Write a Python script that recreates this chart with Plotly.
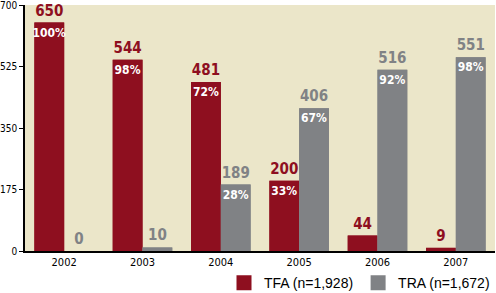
import plotly.graph_objects as go

years = ["2002", "2003", "2004", "2005", "2006", "2007"]
tfa_values = [650, 544, 481, 200, 44, 9]
tra_values = [0, 10, 189, 406, 516, 551]
tfa_pct = ["100%", "98%", "72%", "33%", "", ""]
tra_pct = ["", "", "28%", "67%", "92%", "98%"]
series_names = ["TFA (n=1,928)", "TRA (n=1,672)"]
y_ticks = [0, 175, 350, 525, 700]

RED = "#8e0f1f"
GRAY = "#808285"
BG = "#ebe6c9"
NARROW = "Liberation Sans Narrow, DejaVu Sans Condensed, Arial Narrow, sans-serif"

fig = go.Figure()

for vals, pcts, color, grp in [(tfa_values, tfa_pct, RED, "a"), (tra_values, tra_pct, GRAY, "b")]:
    # bar with value label on top
    fig.add_trace(go.Bar(
        x=years, y=vals, offsetgroup=grp, marker=dict(color=color, line=dict(width=0)),
        text=[str(v) for v in vals], textposition="outside", constraintext="none",
        cliponaxis=False, textangle=0,
        outsidetextfont=dict(family=NARROW, size=15, color=color, weight="bold"),
        showlegend=False, hoverinfo="skip"))
    # same bar with percentage inside at the top
    fig.add_trace(go.Bar(
        x=years, y=vals, offsetgroup=grp, marker=dict(color=color, line=dict(width=0)),
        text=pcts, textposition="inside", insidetextanchor="end", constraintext="none",
        textangle=0,
        insidetextfont=dict(family=NARROW, size=12, color="white", weight="bold"),
        showlegend=False, hoverinfo="skip"))

for name, color in zip(series_names, [RED, GRAY]):
    fig.add_trace(go.Scatter(
        x=[None], y=[None], mode="markers", name=name,
        marker=dict(symbol="square", size=15, color=color)))

fig.update_layout(
    width=496, height=293,
    margin=dict(l=25, r=1, t=5, b=42),
    paper_bgcolor="white", plot_bgcolor=BG,
    barmode="group", bargap=0.24, bargroupgap=0,
    showlegend=True,
    legend=dict(orientation="h", xanchor="right", x=1.0, xref="paper",
                yanchor="top", yref="container", y=0.088,
                font=dict(family="Liberation Sans, Arial, sans-serif", size=14, color="black"),
                bgcolor="rgba(0,0,0,0)", itemwidth=30, tracegroupgap=0),
    xaxis=dict(type="category", showline=True, linecolor="black", linewidth=1.5,
               ticks="", showgrid=False, zeroline=False, automargin=False,
               tickfont=dict(family=NARROW, size=11, color="black")),
    yaxis=dict(range=[0, 700], tickvals=y_ticks, showline=True, linecolor="black", linewidth=1.5,
               ticks="outside", ticklen=4, tickwidth=1, tickcolor="black",
               showgrid=False, zeroline=False, automargin=False, ticklabeloverflow="allow",
               tickfont=dict(family=NARROW, size=10, color="black")),
)

fig.write_html("out.html")
